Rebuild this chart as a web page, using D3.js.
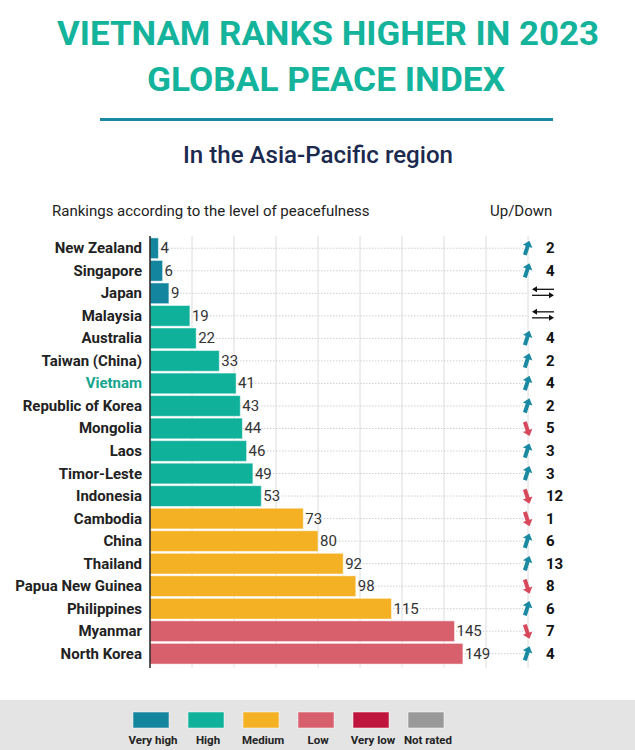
<!DOCTYPE html>
<html>
<head>
<meta charset="utf-8">
<script src="https://cdn.jsdelivr.net/npm/d3@7"></script>
<style>
  body { margin: 0; background: #fff; }
  svg { display: block; font-family: Roboto, "Noto Sans", sans-serif; }
</style>
</head>
<body>
<svg></svg>
<script>
// data
var countries = ["New Zealand", "Singapore", "Japan", "Malaysia", "Australia", "Taiwan (China)",
    "Vietnam", "Republic of Korea", "Mongolia", "Laos", "Timor-Leste", "Indonesia", "Cambodia",
    "China", "Thailand", "Papua New Guinea", "Philippines", "Myanmar", "North Korea"];
var ranks = [4, 6, 9, 19, 22, 33, 41, 43, 44, 46, 49, 53, 73, 80, 92, 98, 115, 145, 149];
var levels = ["Very high", "Very high", "Very high", "High", "High", "High", "High", "High",
    "High", "High", "High", "High", "Medium", "Medium", "Medium", "Medium", "Medium", "Low", "Low"];
// positive = moved up, negative = moved down, 0 = unchanged
var changes = [2, 4, 0, 0, 4, 2, 4, 2, -5, 3, 3, -12, -1, 6, 13, -8, 6, -7, 4];
var legendLabels = ["Very high", "High", "Medium", "Low", "Very low", "Not rated"];
var legendColors = ["#13859f", "#10b19a", "#f4b124", "#d85f6c", "#bf143c", "#999999"];

window.onload = function(){
    var svg = d3.select("svg")
        .attr("width", 635)
        .attr("height", 750);

    var color = d3.scaleOrdinal().domain(legendLabels).range(legendColors);

    // header
    svg.append("text")
        .attr("x", 328).attr("y", 45)
        .attr("text-anchor", "middle")
        .attr("font-size", 34).attr("font-weight", 700)
        .attr("fill", "#14b39b")
        .attr("textLength", 542).attr("lengthAdjust", "spacingAndGlyphs")
        .text("VIETNAM RANKS HIGHER IN 2023");
    svg.append("text")
        .attr("x", 326).attr("y", 91)
        .attr("text-anchor", "middle")
        .attr("font-size", 34).attr("font-weight", 700)
        .attr("fill", "#14b39b")
        .attr("textLength", 358).attr("lengthAdjust", "spacingAndGlyphs")
        .text("GLOBAL PEACE INDEX");
    svg.append("rect")
        .attr("x", 100).attr("y", 118).attr("width", 453).attr("height", 3)
        .attr("fill", "#1a8aa3");
    svg.append("text")
        .attr("x", 318).attr("y", 163)
        .attr("text-anchor", "middle")
        .attr("font-size", 23).attr("font-weight", 500)
        .attr("fill", "#1b2a4e")
        .attr("textLength", 270).attr("lengthAdjust", "spacingAndGlyphs")
        .text("In the Asia-Pacific region");

    svg.append("text")
        .attr("x", 52).attr("y", 216)
        .attr("font-size", 15).attr("fill", "#222")
        .text("Rankings according to the level of peacefulness");
    svg.append("text")
        .attr("x", 490).attr("y", 216)
        .attr("font-size", 15).attr("fill", "#222")
        .text("Up/Down");

    // scales
    var x = d3.scaleLinear().domain([0, 180]).range([150, 528]);
    var y = d3.scaleBand().domain(countries).range([237, 665]).paddingInner(0.08).paddingOuter(0.04);
    var rows = countries.map(function(c, i){
        return {country: c, rank: ranks[i], level: levels[i], change: changes[i]};
    });
    var mid = function(d){ return y(d.country) + y.bandwidth() / 2; };

    // vertical grid
    svg.append("g")
        .selectAll("line")
        .data(x.ticks(9).slice(1)).enter()
        .append("line")
        .attr("x1", function(d){ return x(d); })
        .attr("x2", function(d){ return x(d); })
        .attr("y1", 236).attr("y2", 668)
        .attr("stroke", "#dcdcdc").attr("stroke-width", 1);

    // horizontal dotted guides
    svg.append("g")
        .selectAll("line")
        .data(rows).enter()
        .append("line")
        .attr("x1", x(0)).attr("x2", x(180))
        .attr("y1", mid).attr("y2", mid)
        .attr("stroke", "#cfcfcf").attr("stroke-dasharray", "1.5,1.5");

    // bars
    svg.append("g")
        .selectAll("rect")
        .data(rows).enter()
        .append("rect")
        .attr("x", x(0))
        .attr("y", function(d){ return y(d.country); })
        .attr("width", function(d){ return x(d.rank) - x(0); })
        .attr("height", y.bandwidth())
        .attr("fill", function(d){ return color(d.level); })
        .attr("stroke", "rgba(255,255,255,0.5)").attr("stroke-width", 1);

    // axis line
    svg.append("line")
        .attr("x1", x(0)).attr("x2", x(0))
        .attr("y1", 236).attr("y2", 668)
        .attr("stroke", "#222").attr("stroke-width", 1.5);

    // value labels
    svg.append("g")
        .selectAll("text")
        .data(rows).enter()
        .append("text")
        .attr("x", function(d){ return x(d.rank) + 2; })
        .attr("y", function(d){ return mid(d) + 5; })
        .attr("font-size", 15).attr("fill", "#333")
        .text(function(d){ return d.rank; });

    // country labels
    svg.append("g")
        .selectAll("text")
        .data(rows).enter()
        .append("text")
        .attr("x", 142)
        .attr("y", function(d){ return mid(d) + 5; })
        .attr("text-anchor", "end")
        .attr("font-size", 15).attr("font-weight", 700)
        .attr("fill", function(d){ return d.country == "Vietnam" ? "#14a58f" : "#222"; })
        .text(function(d){ return d.country; });

    // up / down arrows
    var arrowPath = "M0,-8 L5,-2 L2,-2 L2,7 L-2,7 L-2,-2 L-5,-2 Z";
    svg.append("g")
        .selectAll("path")
        .data(rows.filter(function(d){ return d.change != 0; })).enter()
        .append("path")
        .attr("d", arrowPath)
        .attr("transform", function(d){
            return "translate(527," + mid(d) + ") rotate(" + (d.change > 0 ? 18 : 162) + ")";
        })
        .attr("fill", function(d){ return d.change > 0 ? "#1a8aa3" : "#d8485c"; });

    // unchanged: double arrows
    var same = svg.append("g")
        .selectAll("g")
        .data(rows.filter(function(d){ return d.change == 0; })).enter()
        .append("g")
        .attr("transform", function(d){ return "translate(543," + (mid(d) - 4) + ")"; });
    same.append("line").attr("x1", -9).attr("x2", 11).attr("y1", 0).attr("y2", 0)
        .attr("stroke", "#111").attr("stroke-width", 1.3);
    same.append("path").attr("d", "M-11,0 L-6,-3 L-6,3 Z").attr("fill", "#111");
    same.append("line").attr("x1", -11).attr("x2", 9).attr("y1", 6).attr("y2", 6)
        .attr("stroke", "#111").attr("stroke-width", 1.3);
    same.append("path").attr("d", "M11,6 L6,3 L6,9 Z").attr("fill", "#111");

    // change numbers
    svg.append("g")
        .selectAll("text")
        .data(rows.filter(function(d){ return d.change != 0; })).enter()
        .append("text")
        .attr("x", 546)
        .attr("y", function(d){ return mid(d) + 5; })
        .attr("font-size", 15).attr("font-weight", 700).attr("fill", "#111")
        .text(function(d){ return Math.abs(d.change); });

    // legend
    svg.append("rect")
        .attr("x", 0).attr("y", 700).attr("width", 635).attr("height", 50)
        .attr("fill", "#e4e4e4");
    var lx = d3.scalePoint().domain(legendLabels).range([151, 426]);
    var leg = svg.append("g")
        .selectAll("g")
        .data(legendLabels).enter()
        .append("g")
        .attr("transform", function(d){ return "translate(" + lx(d) + ",0)"; });
    leg.append("rect")
        .attr("x", -18).attr("y", 712).attr("width", 36).attr("height", 16)
        .attr("fill", function(d){ return color(d); })
        .attr("stroke", "rgba(255,255,255,0.5)");
    leg.append("text")
        .attr("x", 2).attr("y", 744)
        .attr("text-anchor", "middle")
        .attr("font-size", 11.5).attr("font-weight", 700).attr("fill", "#222")
        .text(function(d){ return d; });
};
</script>
</body>
</html>
